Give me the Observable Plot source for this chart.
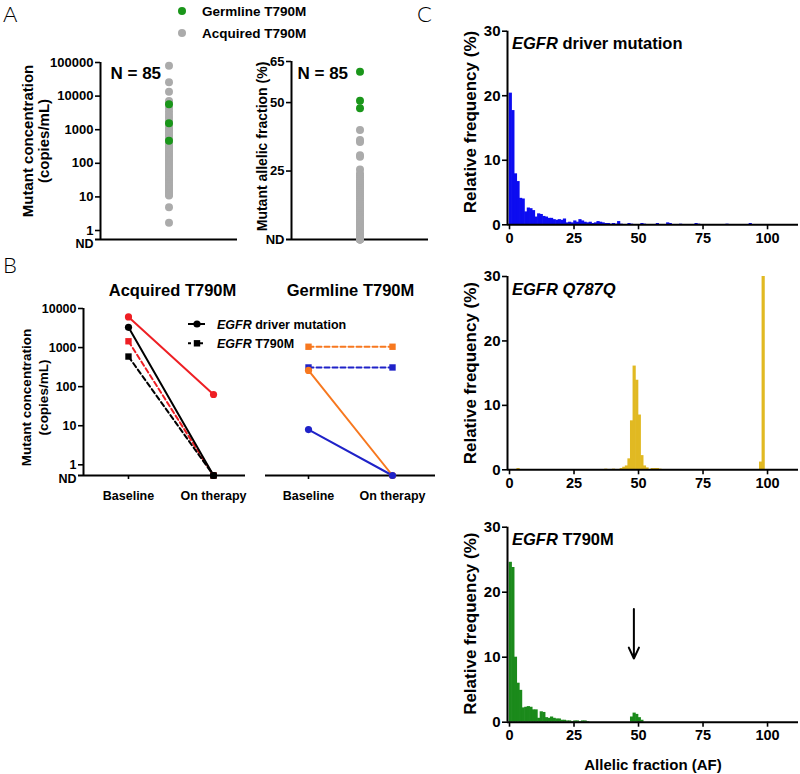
<!DOCTYPE html>
<html>
<head>
<meta charset="utf-8">
<script src="https://cdn.jsdelivr.net/npm/d3@7"></script>
<script src="https://cdn.jsdelivr.net/npm/@observablehq/plot@0.6"></script>
<style>
  body { margin: 0; background: #fff; }
  #fig { position: relative; width: 800px; height: 774px; overflow: hidden; background: #fff; }
  #fig svg { position: absolute; }
</style>
</head>
<body>
<div id="fig"></div>
<script>
// ---------------- DATA ----------------
// Panel A
const legendA = ["Germline T790M", "Acquired T790M"];
const nLabel = "N = 85";
const germlineConc = [5700, 1550, 470];
const acquiredConc = [80000, 26000, 13500, 7200, 6100, 4400, 3500, 2800, 2300, 1900, 1600, 1300, 1100, 950, 820, 700, 610, 540, 480, 420, 380, 340, 300, 270, 250, 230, 210, 190, 175, 160, 150, 140, 130, 120, 112, 105, 98, 92, 86, 80, 75, 70, 66, 62, 58, 54, 50, 47, 44, 41, 38, 36, 34, 32, 30, 28, 27, 26, 25, 24, 23, 22, 21, 20, 19, 18.5, 18, 17, 16.5, 16, 15.5, 15, 14.5, 14, 13.5, 13, 12.5, 12, 12, 11, 4.9, 1.7];
const germlineAF = [61.3, 50.7, 47.9];
const acquiredAF = [40, 36.3, 35.6, 30.8, 30.2, 25.6, 24.1, 23.4, 22.7, 22.0, 21.3, 20.6, 19.9, 19.2, 18.5, 17.8, 17.1, 16.4, 15.7, 15.0, 14.3, 13.6, 12.9, 12.2, 11.5, 10.8, 10.1, 9.4, 8.7, 8.0, 7.4, 6.8, 6.2, 5.7, 5.2, 4.8, 4.4, 4.0, 3.7, 3.4, 3.1, 2.8, 2.5, 2.3, 2.1, 1.9, 1.7, 1.5, 1.4, 1.3, 1.2, 1.1, 1.0, 0.9, 0.8, 0.7, 0.65, 0.6, 0.55, 0.5, 0.45, 0.4, 0.38, 0.35, 0.32, 0.3, 0.28, 0.25, 0.22, 0.2, 0.18, 0.16, 0.14, 0.12, 0.1, 0.09, 0.08, 0.07, 0.06, 0.05, 0.04, 0.03];
const concTicksA = [1, 10, 100, 1000, 10000, 100000];
const afTicksA = [25, 50, 65];
const ndLabel = "ND";
const ND_A = 0.54;   // log position used for "not detected"
const groupIndex = 1; // single group, centred on a [0, 2] index axis

// Panel B
const cohortTitles = ["Acquired T790M", "Germline T790M"];
const phases = ["Baseline", "On therapy"];
const bCohort   = ["Acquired T790M", "Acquired T790M", "Acquired T790M", "Acquired T790M", "Germline T790M", "Germline T790M", "Germline T790M", "Germline T790M"];
const bPatient  = ["P1", "P2", "P1", "P2", "P3", "P4", "P3", "P4"];
const bMutation = ["driver", "driver", "T790M", "T790M", "T790M", "T790M", "driver", "driver"];
const bBaseline  = [6100, 3300, 1450, 590, 1050, 310, 260, 8];
const bOnTherapy = [63, null, null, null, 1050, 310, null, null];  // null = not detected
const concTicksB = [1, 10, 100, 1000, 10000];
const legendB = ["driver mutation", "T790M"];
const ND_B = 0.533;

// Panel C histograms (bin start AF, relative frequency %)
const binWidth = 1;
const driverAF   = [0,1,2,3,4,5,6,7,8,9,10,11,12,13,14,15,16,17,18,19,20,21,22,23,24,25,26,27,28,29,30,31,32,33,34,35,36,37,38,39,40,41,42,43,46,47,51,52,57,61,62,66,72,73,84,93];
const driverFreq = [20.4,17.7,7.9,6.7,4.1,4.0,2.0,2.6,2.5,2.2,1.2,1.7,1.6,1.3,1.2,1.0,1.0,0.8,0.7,0.8,0.7,0.9,0.3,0.4,0.3,0.6,0.4,0.8,0.6,0.4,0.3,0.4,0.2,0.3,0.5,0.4,0.3,0.2,0.2,0.1,0.2,0.1,0.5,0.1,0.2,0.1,0.2,0.1,0.2,0.3,0.2,0.1,0.2,0.1,0.1,0.2];
const q787AF   = [3, 37, 40, 43, 44, 45, 46, 47, 48, 49, 50, 51, 52, 53, 55, 56, 57, 58, 97, 98];
const q787Freq = [0.2, 0.1, 0.1, 0.2, 0.4, 0.6, 1.7, 7.6, 16.1, 13.9, 8.5, 2.2, 0.6, 0.3, 0.2, 0.2, 0.2, 0.1, 1.2, 30];
const t790AF   = [0,1,2,3,4,5,6,7,8,9,10,11,12,13,14,15,16,17,18,19,20,21,22,23,24,25,26,27,28,29,30,47,48,49,50,51];
const t790Freq = [24.6,23.8,10.0,6.0,4.9,2.2,2.3,2.4,2.3,1.9,1.9,0.6,1.6,1.5,0.7,0.6,0.8,0.6,0.5,0.5,0.3,0.3,0.2,0.2,0.1,0.2,0.2,0.1,0.2,0.2,0.1,0.8,1.4,1.2,0.7,0.3];
const histTitles = [["EGFR", " driver mutation"], ["EGFR Q787Q", ""], ["EGFR", " T790M"]];
const afTicksC = [0, 25, 50, 75, 100];
const freqTicksC = [0, 10, 20, 30];
const arrowAF = [48.2], arrowFrom = [17.4], arrowTo = [9.8];

// ---------------- STYLES ----------------
const FONT = '"Liberation Sans", Arial, Helvetica, sans-serif';
const GREEN_DOT = "#1a961a", GRAY_DOT = "#ababab";
const patientColor = {P1: "#ee1f24", P2: "#000000", P3: "#f7781f", P4: "#1f22c8"};
const histColors = ["#0c0cf0", "#e1b922", "#1b8a1b"];
const fig = document.getElementById("fig");
const plain = d => String(d);

function panel(box, frame, opts) {
  const [L, T, W, H] = box, [x0, x1, y0, y1] = frame;
  const svg = Plot.plot({
    width: W, height: H,
    marginLeft: x0 - L, marginRight: L + W - x1, marginTop: y0 - T, marginBottom: T + H - y1,
    style: {background: "transparent", overflow: "visible", fontFamily: FONT, fontWeight: "bold", color: "#000"},
    ...opts
  });
  svg.style.position = "absolute";
  svg.style.left = L + "px";
  svg.style.top = T + "px";
  fig.append(svg);
  return svg;
}
const yTitle = (text, dx, dy, fontSize, lineHeight = 1.1) =>
  Plot.text([text], {frameAnchor: "left", rotate: -90, dx, dy, textAnchor: "middle", lineAnchor: "middle", fontSize, lineHeight});

// ---------------- PANEL A ----------------
panel([0, 40, 250, 222], [100, 237, 62, 239], {
  x: {domain: [0, 2], axis: null},
  y: {type: "log", domain: [ND_A, 100000]},
  marks: [
    Plot.ruleX([0], {strokeWidth: 2}),
    Plot.ruleY([ND_A], {strokeWidth: 2, insetLeft: -5}),
    Plot.dot(acquiredConc, {x: () => groupIndex, y: d => d, r: 4, fill: GRAY_DOT}),
    Plot.dot(germlineConc, {x: () => groupIndex, y: d => d, r: 4, fill: GREEN_DOT}),
    Plot.axisY({ticks: concTicksA, tickFormat: plain, tickSize: 5, tickPadding: 2, fontSize: 13, strokeWidth: 1.6, label: null}),
    Plot.text([ndLabel], {y: () => ND_A, frameAnchor: "left", dx: -7, dy: 4.5, textAnchor: "end", fontSize: 12.5}),
    Plot.text([nLabel], {frameAnchor: "top-left", dx: 10, dy: 11, lineAnchor: "middle", fontSize: 17}),
    yTitle("Mutant concentration\n(copies/mL)", -65, -10, 15, 1.07)
  ]
});

panel([250, 40, 190, 222], [291, 428, 61, 239], {
  x: {domain: [0, 2], axis: null},
  y: {domain: [0, 65]},
  marks: [
    Plot.ruleX([0], {strokeWidth: 2}),
    Plot.ruleY([0], {strokeWidth: 2, insetLeft: -5}),
    Plot.dot(acquiredAF, {x: () => groupIndex, y: d => d, r: 4, fill: GRAY_DOT}),
    Plot.dot(germlineAF, {x: () => groupIndex, y: d => d, r: 4, fill: GREEN_DOT}),
    Plot.axisY({ticks: afTicksA, tickFormat: plain, tickSize: 5, tickPadding: 2, fontSize: 13, strokeWidth: 1.6, label: null}),
    Plot.text([ndLabel], {y: () => 0, frameAnchor: "left", dx: -7, textAnchor: "end", fontSize: 13}),
    Plot.text([nLabel], {frameAnchor: "top-left", dx: 6, dy: 12, lineAnchor: "middle", fontSize: 17}),
    yTitle("Mutant allelic fraction (%)", -29, -4, 14)
  ]
});

// ---------------- PANEL B ----------------
const bRows = [];
bCohort.forEach((c, i) => phases.forEach((p, j) => bRows.push({
  cohort: c, patient: bPatient[i], mutation: bMutation[i], phase: j,
  value: j === 0 ? bBaseline[i] : bOnTherapy[i]
})));
const yB = d => d.value == null ? ND_B : d.value;
const colB = d => patientColor[d.patient];

function bMarks(cohort) {
  const rows = bRows.filter(d => d.cohort === cohort);
  const dashed = rows.filter(d => d.mutation === "T790M");
  const solid = rows.filter(d => d.mutation === "driver");
  return [
    Plot.line(dashed, {x: "phase", y: yB, z: "patient", stroke: colB, strokeWidth: 2, strokeDasharray: "5,3"}),
    Plot.line(solid, {x: "phase", y: yB, z: "patient", stroke: colB, strokeWidth: 2}),
    Plot.dot(dashed, {x: "phase", y: yB, symbol: "square", r: 3.6, fill: colB}),
    Plot.dot(solid, {x: "phase", y: yB, symbol: "circle", r: 3.6, fill: colB}),
  ];
}

const xDomBL = [-0.529, 1.376], xDomBR = [-0.512, 1.512];
panel([0, 280, 255, 230], [83, 245, 308, 475], {
  x: {domain: xDomBL},
  y: {type: "log", domain: [ND_B, 10000]},
  color: {type: "identity"},
  marks: [
    Plot.ruleX([xDomBL[0]], {strokeWidth: 2}),
    Plot.ruleY([ND_B], {strokeWidth: 2, insetLeft: -5}),
    Plot.axisY({ticks: concTicksB, tickFormat: plain, tickSize: 5, tickPadding: 2, fontSize: 12.5, strokeWidth: 1.6, label: null}),
    Plot.text([ndLabel], {y: () => ND_B, frameAnchor: "left", dx: -7, dy: 3, textAnchor: "end", fontSize: 12.5}),
    Plot.axisX({ticks: [0, 1], tickFormat: i => phases[i], tickSize: 4, tickPadding: 12, fontSize: 12.5, strokeWidth: 1.6, label: null}),
    ...bMarks(cohortTitles[0]),
    Plot.text([cohortTitles[0]], {frameAnchor: "top", dx: 8, dy: -18, lineAnchor: "middle", fontSize: 16.5}),
    yTitle("Mutant concentration\n(copies/mL)", -49.5, 5.5, 13.5, 1.26)
  ]
});

panel([255, 280, 190, 230], [265, 435, 308, 475], {
  x: {domain: xDomBR},
  y: {type: "log", domain: [ND_B, 10000], axis: null},
  color: {type: "identity"},
  marks: [
    Plot.ruleY([ND_B], {strokeWidth: 2}),
    Plot.axisX({ticks: [0, 1], tickFormat: i => phases[i], tickSize: 4, tickPadding: 12, fontSize: 12.5, strokeWidth: 1.6, label: null}),
    ...bMarks(cohortTitles[1]),
    Plot.text([cohortTitles[1]], {frameAnchor: "top", dx: 0, dy: -18, lineAnchor: "middle", fontSize: 16.5})
  ]
});

// ---------------- PANEL C ----------------
const xDomC = [-0.78, 112];
function histPanel(box, frame, afs, freqs, color, extra, dyTitle) {
  const rows = afs.map((a, i) => ({af: a, freq: freqs[i]}));
  return panel(box, frame, {
    x: {domain: xDomC},
    y: {domain: [0, 30]},
    marks: [
      Plot.rectY(rows, {x1: "af", x2: d => d.af + binWidth, y: "freq", fill: color, insetLeft: -0.3, insetRight: -0.3}),
      Plot.ruleX([xDomC[0]], {strokeWidth: 2}),
      Plot.ruleY([0], {strokeWidth: 2}),
      Plot.axisY({ticks: freqTicksC, tickFormat: plain, tickSize: 5, tickPadding: 2, fontSize: 15, strokeWidth: 1.6, label: null}),
      Plot.axisX({ticks: afTicksC, tickFormat: plain, tickSize: 5, tickPadding: 3, fontSize: 14.5, strokeWidth: 1.6, label: null}),
      yTitle("Relative frequency (%)", -37, dyTitle, 17),
      ...extra
    ]
  });
}
histPanel([450, 0, 350, 255], [507, 798, 30.7, 224.3], driverAF, driverFreq, histColors[0], [], -6);
histPanel([450, 255, 350, 240], [507, 798, 276, 469.3], q787AF, q787Freq, histColors[1], [], 0);
histPanel([450, 500, 350, 274], [507, 798, 526.7, 721.7], t790AF, t790Freq, histColors[2], [
  Plot.arrow(arrowAF.map((a, i) => ({af: a, from: arrowFrom[i], to: arrowTo[i]})), {x1: "af", x2: "af", y1: "from", y2: "to", strokeWidth: 2, headLength: 9, headAngle: 50, stroke: "#000"}),
  Plot.text(["Allelic fraction (AF)"], {frameAnchor: "bottom", dy: 43, lineAnchor: "middle", fontSize: 15})
], -1);

// ---------------- OVERLAY TEXT / LEGENDS ----------------
const ov = d3.create("svg").attr("width", 800).attr("height", 774)
  .style("left", "0px").style("top", "0px").style("overflow", "visible")
  .attr("font-family", FONT).attr("font-weight", "bold");

// panel letters
[["A", 3, 22], ["B", 3, 273], ["C", 417, 22]].forEach(([t, x, y]) =>
  ov.append("text").attr("x", x).attr("y", y).attr("font-size", 22).attr("font-weight", 300)
    .attr("font-family", "Lato, 'Open Sans', sans-serif").text(t));

// legend A
[[GREEN_DOT, 11, 15.5], [GRAY_DOT, 33, 37.5]].forEach(([c, cy, by], i) => {
  ov.append("circle").attr("cx", 182).attr("cy", cy).attr("r", 4).attr("fill", c);
  ov.append("text").attr("x", 202).attr("y", by).attr("font-size", 13.5).text(legendA[i]);
});

// legend B
const lgB = ov.append("g");
lgB.append("line").attr("x1", 188).attr("x2", 205).attr("y1", 324).attr("y2", 324).attr("stroke", "#000").attr("stroke-width", 2);
lgB.append("circle").attr("cx", 197).attr("cy", 324).attr("r", 3.6);
lgB.append("line").attr("x1", 188).attr("x2", 206).attr("y1", 343.3).attr("y2", 343.3).attr("stroke", "#000").attr("stroke-width", 2).attr("stroke-dasharray", "3,3");
lgB.append("rect").attr("x", 193.8).attr("y", 340.1).attr("width", 6.4).attr("height", 6.4);
[[328.5, legendB[0]], [347.8, legendB[1]]].forEach(([y, t]) => {
  const tx = lgB.append("text").attr("x", 217).attr("y", y).attr("font-size", 12.5);
  tx.append("tspan").attr("font-style", "italic").text("EGFR");
  tx.append("tspan").text(" " + t);
});

// histogram titles
[[48.7, 0], [294.5, 1], [545, 2]].forEach(([y, i]) => {
  const tx = ov.append("text").attr("x", 512).attr("y", y).attr("font-size", 16.5);
  tx.append("tspan").attr("font-style", "italic").text(histTitles[i][0]);
  if (histTitles[i][1]) tx.append("tspan").text(histTitles[i][1]);
});

fig.append(ov.node());
</script>
</body>
</html>
